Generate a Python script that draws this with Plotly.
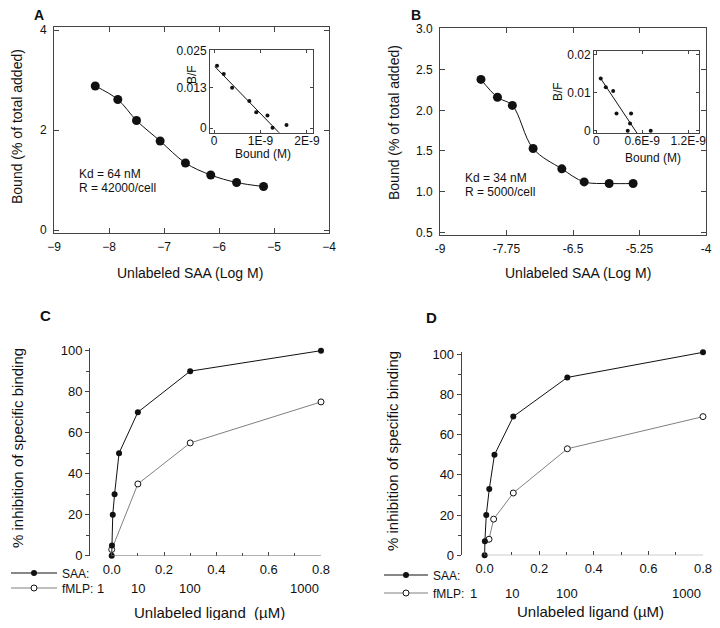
import plotly.graph_objects as go

# the page puts the figure 8 px in from the window corner, so draw it 16 px smaller
OFF = 8
W, H = 720 - 2 * OFF, 628 - 2 * OFF

# panel A: displacement curve + Scatchard inset
a_logm = [-8.25, -7.84, -7.50, -7.07, -6.61, -6.15, -5.68, -5.19]
a_bound = [2.88, 2.61, 2.19, 1.78, 1.34, 1.10, 0.95, 0.87]
a_sc_bound = [0.065e-9, 0.21e-9, 0.39e-9, 0.76e-9, 0.91e-9, 1.15e-9, 1.26e-9, 1.56e-9]
a_sc_bf = [0.0202, 0.0175, 0.0131, 0.0088, 0.0051, 0.0041, 0.0001, 0.0010]
a_fit_x = [0.02e-9, 1.40e-9]
a_fit_y = [0.0199, -0.0015]

# panel B
b_logm = [-8.23, -7.92, -7.64, -7.25, -6.71, -6.29, -5.82, -5.37]
b_bound = [2.38, 2.16, 2.06, 1.53, 1.28, 1.12, 1.10, 1.10]
b_sc_bound = [0.058e-9, 0.124e-9, 0.22e-9, 0.264e-9, 0.454e-9, 0.44e-9, 0.41e-9, 0.71e-9]
b_sc_bf = [0.0137, 0.0114, 0.0104, 0.0045, 0.0045, 0.0019, 0.0, 0.0]
b_fit_x = [0.05e-9, 0.53e-9]
b_fit_y = [0.0139, -0.0006]

# panel C / D: % inhibition
c_saa_x = [0, 0.001, 0.004, 0.011, 0.028, 0.1, 0.3, 0.8]
c_saa_y = [0, 5, 20, 30, 50, 70, 90, 100]
c_fmlp_x = [0, 0.1, 0.3, 0.8]
c_fmlp_y = [3, 35, 55, 75]

d_saa_x = [0, 0.001, 0.006, 0.017, 0.036, 0.105, 0.303, 0.8]
d_saa_y = [0, 7, 20, 33, 50, 69, 88.5, 101]
d_fmlp_x = [0.016, 0.033, 0.105, 0.303, 0.8]
d_fmlp_y = [8, 18, 31, 53, 69]

fmlp_conc = ["1", "10", "100", "1000"]
fmlp_conc_x = [0, 0.1, 0.3, 0.8]

FONT = "Liberation Sans, Arial, sans-serif"
BLACK = "#111111"
GREY = "#808080"
AX = "#444444"


# positions below are window pixels
def px(x):
    return (x - OFF) / W


def py(y):
    return 1 - (y - OFF) / H


def dx(a, b):
    return [px(a), px(b)]


def dy(top, bottom):
    return [py(bottom), py(top)]


fig = go.Figure()

# A
fig.add_trace(go.Scatter(x=a_logm, y=a_bound, mode="lines+markers", line=dict(color=BLACK, width=1, shape="spline"),
                         marker=dict(size=9, color=BLACK), xaxis="x", yaxis="y", showlegend=False))
fig.add_trace(go.Scatter(x=a_sc_bound, y=a_sc_bf, mode="markers", marker=dict(size=4, color=BLACK),
                         xaxis="x2", yaxis="y2", showlegend=False, cliponaxis=False))
fig.add_trace(go.Scatter(x=a_fit_x, y=a_fit_y, mode="lines", line=dict(color=BLACK, width=1),
                         xaxis="x2", yaxis="y2", showlegend=False))
# B
fig.add_trace(go.Scatter(x=b_logm, y=b_bound, mode="lines+markers", line=dict(color=BLACK, width=1, shape="spline"),
                         marker=dict(size=9, color=BLACK), xaxis="x3", yaxis="y3", showlegend=False))
fig.add_trace(go.Scatter(x=b_sc_bound, y=b_sc_bf, mode="markers", marker=dict(size=4, color=BLACK),
                         xaxis="x4", yaxis="y4", showlegend=False, cliponaxis=False))
fig.add_trace(go.Scatter(x=b_fit_x, y=b_fit_y, mode="lines", line=dict(color=BLACK, width=1),
                         xaxis="x4", yaxis="y4", showlegend=False))
# C
fig.add_trace(go.Scatter(x=c_fmlp_x, y=c_fmlp_y, mode="lines+markers", name="fMLP:",
                         line=dict(color=GREY, width=1),
                         marker=dict(size=6, color="white", line=dict(color=BLACK, width=1)),
                         xaxis="x5", yaxis="y5", cliponaxis=False, legend="legend2"))
fig.add_trace(go.Scatter(x=c_saa_x, y=c_saa_y, mode="lines+markers", name="SAA:",
                         line=dict(color=BLACK, width=1), marker=dict(size=6, color=BLACK),
                         xaxis="x5", yaxis="y5", cliponaxis=False, legend="legend"))
# D
fig.add_trace(go.Scatter(x=d_fmlp_x, y=d_fmlp_y, mode="lines+markers", name="fMLP:",
                         line=dict(color=GREY, width=1),
                         marker=dict(size=6, color="white", line=dict(color=BLACK, width=1)),
                         xaxis="x6", yaxis="y6", cliponaxis=False, legend="legend4"))
fig.add_trace(go.Scatter(x=d_saa_x, y=d_saa_y, mode="lines+markers", name="SAA:",
                         line=dict(color=BLACK, width=1), marker=dict(size=6, color=BLACK),
                         xaxis="x6", yaxis="y6", cliponaxis=False, legend="legend3"))

box = dict(showline=True, mirror="ticks", linecolor=AX, linewidth=1, ticks="inside", tickcolor=AX,
           showgrid=False, zeroline=False, automargin=False, ticklabeloverflow="allow")
main = dict(box, ticklen=5, tickfont=dict(size=12, color=BLACK))
inset = dict(box, ticklen=3, tickfont=dict(size=12, color=BLACK))

bare_y = dict(showline=True, linecolor=AX, linewidth=1, ticks="outside", ticklen=4, tickcolor=AX,
              showgrid=False, zeroline=False, tickfont=dict(size=13, color=BLACK), dtick=20,
              minor=dict(ticks="outside", dtick=10, ticklen=3, tickcolor=AX), automargin=False)
bare_x = dict(showline=False, ticks="inside", ticklen=4, tickcolor=AX, showgrid=False, zeroline=False,
              tickfont=dict(size=13, color=BLACK), tick0=0, dtick=0.2, tickformat=".1f",
              minor=dict(ticks="inside", dtick=0.1, ticklen=3, tickcolor=AX), ticklabelstandoff=4,
              automargin=False, ticklabeloverflow="allow")

fig.update_layout(
    template="none",
    width=W, height=H, margin=dict(l=0, r=0, t=0, b=0, autoexpand=False),
    paper_bgcolor="white", plot_bgcolor="rgba(0,0,0,0)",
    font=dict(family=FONT, color=BLACK),
    xaxis=dict(main, domain=dx(54, 329), range=[-9, -4], dtick=1, tick0=-9, anchor="y",
               ticklabelstandoff=3),
    yaxis=dict(main, domain=dy(27, 233), range=[-0.06, 4.06], tickvals=[0, 2, 4], anchor="x",
               ticklabelstandoff=4),
    xaxis2=dict(inset, domain=dx(210, 313), range=[-0.086e-9, 2.13e-9], tickvals=[0, 1e-9, 2e-9],
                ticktext=["0", "1E-9", "2E-9"], anchor="y2", ticklabelstandoff=-3),
    yaxis2=dict(inset, domain=dy(50, 133), range=[-0.0016, 0.0253], tickvals=[0, 0.013, 0.025],
                ticktext=["0", "0.013", "0.025"], anchor="x2"),
    xaxis3=dict(main, domain=dx(440, 706), range=[-9, -4], tickvals=[-9, -7.75, -6.5, -5.25, -4],
                ticktext=["-9", "-7.75", "-6.5", "-5.25", "-4"], anchor="y3", ticklabelstandoff=3),
    yaxis3=dict(main, domain=dy(28, 235), range=[0.467, 3.012], dtick=0.5, tick0=0.5, tickformat=".1f",
                anchor="x3", ticklabelstandoff=4),
    xaxis4=dict(inset, domain=dx(594, 699), range=[-0.03e-9, 1.34e-9], tickvals=[0, 0.6e-9, 1.2e-9],
                ticktext=["0", "0.6E-9", "1.2E-9"], anchor="y4", ticklabelstandoff=-3),
    yaxis4=dict(inset, domain=dy(51, 133), range=[-0.0006, 0.0209], tickvals=[0, 0.01, 0.02],
                ticktext=["0", "0.01", "0.02"], anchor="x4"),
    xaxis5=dict(bare_x, domain=dx(90, 321), range=[-0.083, 0.8], anchor="y5"),
    yaxis5=dict(bare_y, domain=dy(348, 555.7), range=[0, 101.3], anchor="x5"),
    xaxis6=dict(bare_x, domain=dx(461.7, 703), range=[-0.084, 0.8], anchor="y6"),
    yaxis6=dict(bare_y, domain=dy(351.7, 555.3), range=[0, 101.3], anchor="x6"),
)

leg = dict(xanchor="left", yanchor="middle", bgcolor="rgba(0,0,0,0)", borderwidth=0,
           font=dict(size=12, color=BLACK))
fig.update_layout(
    legend=dict(leg, x=px(6), y=py(573), itemwidth=46),
    legend2=dict(leg, x=px(6), y=py(588), itemwidth=46),
    legend3=dict(leg, x=px(379), y=py(575), itemwidth=44),
    legend4=dict(leg, x=px(379), y=py(593), itemwidth=44),
)

# bottom axis line of C and D only spans the data
for xr, yr, xs in [("x5", "y5", c_saa_x), ("x6", "y6", d_saa_x)]:
    fig.add_shape(type="line", xref=xr, yref=yr, x0=min(xs), x1=max(xs), y0=0, y1=0,
                  line=dict(color=GREY, width=1))

ann = []


def txt(s, x, y, size=14, angle=0, xanchor="center", bold=False):
    ann.append(dict(text=f"<b>{s}</b>" if bold else s, x=px(x), y=py(y),
                    xref="paper", yref="paper", showarrow=False, textangle=angle, xanchor=xanchor,
                    yanchor="middle", font=dict(size=size, color=BLACK)))


txt("A", 39, 15, 14, bold=True)
txt("B", 416, 15, 14, bold=True)
txt("C", 45, 315, 15, bold=True)
txt("D", 431, 317, 15, bold=True)

txt("Bound (% of total added)", 17, 127, 14, angle=-90)
txt("Unlabeled SAA (Log M)", 190, 273, 14)
txt("Bound (% of total added)", 394, 123, 14, angle=-90)
txt("Unlabeled SAA (Log M)", 578, 273, 14)

txt("Kd = 64 nM", 77, 174, 12, xanchor="left")
txt("R = 42000/cell", 77, 188, 12, xanchor="left")
txt("Kd = 34 nM", 463, 178, 12, xanchor="left")
txt("R = 5000/cell", 463, 192, 12, xanchor="left")

txt("B/F", 192, 75, 12, angle=-90)
txt("Bound (M)", 263, 154, 12)
txt("B/F", 558, 92, 12, angle=-90)
txt("Bound (M)", 653, 158, 12)

txt("% inhibition of specific binding", 17, 448, 15, angle=-90)
txt("Unlabeled ligand  (\u00b5M)", 209, 612, 15)
txt("% inhibition of specific binding", 392, 451, 15, angle=-90)
txt("Unlabeled ligand (\u00b5M)", 590, 611, 15)

# fMLP concentration row under the x axis
for xr, yrow in [("x5", 588), ("x6", 593)]:
    for i, (lab, xv) in enumerate(zip(fmlp_conc, fmlp_conc_x)):
        anchor = "right" if i == len(fmlp_conc) - 1 else "center"
        a = dict(text=lab, x=xv, y=py(yrow), xref=xr, yref="paper", showarrow=False,
                 xanchor=anchor, yanchor="middle", font=dict(size=13, color=BLACK))
        if i == 0:
            a["xshift"] = -11
        ann.append(a)

fig.update_layout(annotations=ann)

fig.write_html("out.html")
